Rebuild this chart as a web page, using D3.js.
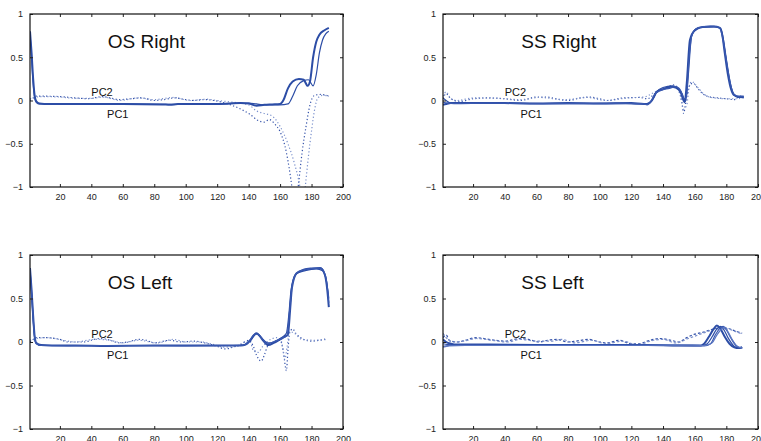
<!DOCTYPE html>
<meta charset="utf-8">
<script src="https://d3js.org/d3.v7.min.js"></script>
<style>
  body { margin: 0; background: #fff; }
  text { font-family: "Liberation Sans", Arial, sans-serif; }
</style>
<svg id="chart" width="761" height="441"></svg>
<script>

// ---- data (x = frame index, y = loading) ----
var xTicks = [20, 40, 60, 80, 100, 120, 140, 160, 180, 200];
var yTicks = [-1, -0.5, 0, 0.5, 1];

// OS Right
var osRightPC1a = [[1,0.8],[2,0.55],[3,0.25],[4,0.05],[5,-0.01],[7,-0.035],[10,-0.04],[30,-0.04],[60,-0.04],[85,-0.045],[90,-0.05],[95,-0.04],[120,-0.04],[135,-0.03],[140,-0.035],[145,-0.06],[150,-0.05],[155,-0.045],[160,-0.04],[162,0.0],[165,0.14],[168,0.22],[172,0.25],[175,0.24],[177.5,0.17],[179,0.22],[181,0.5],[183,0.68],[185,0.76],[188,0.81],[191,0.84]];
var osRightPC1b = [[1,0.78],[2,0.5],[3,0.2],[4,0.03],[5,-0.02],[7,-0.04],[20,-0.04],[60,-0.04],[90,-0.045],[120,-0.04],[140,-0.03],[145,-0.04],[150,-0.05],[160,-0.05],[165,-0.04],[168,0.05],[171,0.17],[175,0.23],[178,0.24],[181,0.17],[183,0.3],[185,0.55],[187,0.7],[189,0.77],[191,0.8]];
var osRightPC2a = [[1,0.0],[3,0.03],[5,0.05],[10,0.05],[20,0.045],[30,0.03],[38,0.02],[47,0.045],[52,0.03],[58,0.01],[65,0.02],[72,0.03],[80,0.0],[86,0.01],[93,0.03],[100,0.01],[105,0.0],[112,0.01],[118,0.0],[125,-0.03],[130,-0.06],[135,-0.1],[140,-0.15],[147,-0.24],[150,-0.25],[153,-0.22],[157,-0.28],[160,-0.36],[164,-0.6],[167.5,-1.0],[169.5,-1.3],[171.5,-1.0],[174,-0.6],[176.5,-0.3],[179,-0.05],[182,0.06],[186,0.07],[191,0.05]];
var osRightPC2b = [[1,0.02],[5,0.04],[10,0.045],[20,0.04],[30,0.025],[40,0.025],[48,0.04],[58,0.0],[70,0.03],[80,0.01],[92,0.035],[103,0.0],[113,0.015],[120,0.0],[130,-0.02],[140,-0.05],[145,-0.12],[150,-0.15],[155,-0.18],[160,-0.3],[165,-0.5],[169,-0.72],[172.6,-1.0],[174.5,-1.25],[176,-1.0],[178,-0.65],[180,-0.35],[182,-0.1],[184,0.03],[187,0.06],[191,0.05]];

// SS Right
var ssRightPC1a = [[1,-0.05],[3,-0.04],[6,-0.03],[20,-0.03],[40,-0.03],[60,-0.035],[80,-0.03],[100,-0.035],[120,-0.03],[128,-0.04],[130,-0.04],[133,0.0],[136,0.1],[140,0.13],[145,0.16],[148,0.15],[151,0.1],[153,0.0],[153.7,-0.02],[155,0.2],[157,0.7],[160,0.81],[165,0.85],[172,0.855],[176,0.84],[177.5,0.75],[179,0.55],[181,0.3],[183,0.13],[185,0.06],[188,0.04],[191,0.04]];
var ssRightPC1b = [[1,0.03],[3,0.0],[6,-0.03],[20,-0.03],[50,-0.035],[80,-0.035],[110,-0.03],[129,-0.04],[131,-0.03],[134,0.03],[136.5,0.11],[140,0.15],[146,0.17],[149,0.15],[152,0.08],[154.2,-0.01],[156,0.3],[158,0.74],[161,0.83],[166,0.85],[173,0.85],[176.5,0.83],[178,0.72],[180,0.48],[182,0.25],[184,0.1],[186,0.05],[191,0.03]];
var ssRightPC1c = [[1,-0.02],[4,-0.03],[8,-0.035],[30,-0.03],[70,-0.035],[110,-0.035],[127,-0.035],[130,-0.05],[132,-0.02],[135,0.08],[139,0.12],[144,0.14],[148,0.16],[151,0.12],[153.5,0.02],[154.8,0.05],[156.5,0.5],[158.5,0.77],[162,0.84],[170,0.86],[175,0.85],[177,0.78],[179,0.58],[181,0.35],[183,0.16],[185,0.07],[188,0.05],[191,0.05]];
var ssRightPC2a = [[1,0.02],[3,0.08],[5,0.04],[8,0.0],[12,-0.01],[20,0.02],[30,0.03],[40,0.02],[50,0.0],[60,0.04],[66,0.04],[75,0.01],[80,0.0],[88,0.03],[93,0.04],[100,0.02],[105,0.0],[115,0.03],[125,0.035],[130,0.02],[135,0.08],[140,0.13],[147,0.18],[150,0.12],[152,-0.03],[153,-0.15],[154.5,0.0],[157,0.18],[159,0.2],[162,0.14],[165,0.08],[170,0.04],[175,0.03],[180,0.02],[185,0.01],[189,0.05],[191,0.04]];
var ssRightPC2b = [[1,0.05],[3,0.1],[6,0.02],[10,0.0],[20,0.03],[35,0.025],[50,0.01],[62,0.035],[78,0.01],[92,0.035],[104,0.0],[118,0.03],[128,0.04],[135,0.1],[142,0.15],[148,0.16],[151,0.05],[153,-0.1],[155,-0.05],[156.5,0.15],[158,0.22],[162,0.15],[166,0.07],[172,0.03],[180,0.02],[187,0.02],[191,0.05]];

// OS Left
var osLeftPC1a = [[1,0.85],[2,0.6],[3,0.3],[4,0.06],[5,-0.01],[8,-0.035],[15,-0.04],[30,-0.04],[50,-0.045],[80,-0.04],[100,-0.04],[120,-0.04],[135,-0.04],[138,-0.03],[141,0.02],[143,0.07],[145,0.1],[147,0.07],[149.5,0.01],[152.5,-0.035],[156,-0.01],[160,0.03],[163,0.06],[165,0.09],[166.5,0.4],[167.5,0.62],[170.5,0.79],[175,0.83],[180,0.845],[185.5,0.85],[188.5,0.77],[190,0.6],[191,0.4]];
var osLeftPC1b = [[1,0.82],[2,0.55],[3,0.25],[4,0.04],[5,-0.02],[8,-0.04],[20,-0.04],[50,-0.04],[90,-0.04],[120,-0.04],[136,-0.04],[138.5,-0.02],[141,0.01],[145,0.095],[148,0.05],[152,-0.01],[156,0.0],[160,0.04],[164,0.1],[165.5,0.3],[167,0.6],[170,0.78],[176,0.82],[183,0.84],[187,0.82],[189.5,0.7],[191,0.5]];
var osLeftPC1c = [[1,0.84],[2,0.58],[3,0.28],[4,0.05],[5,-0.015],[8,-0.04],[25,-0.045],[60,-0.04],[100,-0.045],[130,-0.04],[137,-0.035],[140,0.0],[144,0.09],[146,0.09],[149,0.03],[152,-0.02],[157,0.01],[162,0.05],[164.5,0.07],[166,0.35],[168,0.68],[171,0.8],[178,0.84],[186,0.85],[189,0.75],[191,0.45]];
var osLeftPC2a = [[1,0.0],[3,0.03],[5,0.05],[10,0.05],[20,0.03],[25,0.0],[35,0.0],[45,0.04],[50,0.03],[58,-0.01],[63,0.0],[70,0.03],[75,0.02],[80,-0.01],[90,0.02],[97,0.0],[105,0.01],[112,-0.01],[120,-0.05],[125,-0.08],[130,-0.06],[135,-0.03],[140,0.02],[143,-0.05],[145,-0.15],[148,-0.22],[150,-0.15],[152,-0.05],[156,0.0],[160,0.02],[162,-0.1],[164,-0.33],[165,-0.1],[166,0.1],[168,0.15],[170,0.1],[175,0.03],[180,0.01],[185,0.02],[190,0.04]];
var osLeftPC2b = [[1,0.02],[5,0.04],[12,0.05],[22,0.02],[30,0.0],[42,0.03],[52,0.02],[60,-0.01],[70,0.02],[82,-0.01],[92,0.03],[100,0.0],[110,0.0],[118,-0.03],[124,-0.06],[132,-0.05],[138,0.0],[141,0.0],[143,-0.1],[146,-0.12],[149,-0.05],[153,0.02],[158,0.05],[161,0.0],[163,-0.2],[164.5,-0.05],[166,0.12],[169,0.1],[174,0.03],[182,0.02],[190,0.03]];

// SS Left
var ssLeftPC1a = [[1,0.03],[3,0.0],[6,-0.02],[10,-0.03],[30,-0.03],[60,-0.035],[100,-0.035],[130,-0.035],[150,-0.04],[164,-0.04],[166,-0.02],[169,0.06],[172,0.15],[174,0.19],[176,0.16],[179,0.06],[182,-0.02],[185,-0.06],[188,-0.07],[190,-0.06]];
var ssLeftPC1b = [[1,-0.02],[4,-0.03],[10,-0.035],[40,-0.035],[80,-0.03],[120,-0.035],[165,-0.04],[168,-0.02],[171,0.06],[174,0.15],[176.5,0.18],[178.5,0.14],[181,0.05],[184,-0.03],[187,-0.07],[190,-0.06]];
var ssLeftPC1c = [[1,-0.05],[5,-0.04],[12,-0.035],[50,-0.04],[90,-0.035],[140,-0.04],[166,-0.045],[170,-0.02],[173,0.08],[176,0.16],[178,0.18],[180,0.14],[183,0.04],[186,-0.04],[189,-0.07],[190,-0.065]];
var ssLeftPC1d = [[1,-0.06],[5,-0.045],[15,-0.04],[60,-0.04],[110,-0.04],[150,-0.035],[167,-0.04],[171,-0.01],[174,0.08],[177,0.15],[179,0.17],[181,0.12],[184,0.02],[187,-0.05],[190,-0.07]];
var ssLeftPC2a = [[1,0.05],[3,0.08],[5,0.02],[10,0.0],[15,0.02],[22,0.05],[30,0.03],[40,0.01],[50,0.04],[55,0.03],[62,0.0],[67,0.02],[73,0.03],[80,0.0],[85,0.01],[93,0.03],[100,0.0],[105,-0.01],[112,0.02],[120,-0.02],[125,-0.02],[130,0.01],[138,0.04],[145,0.02],[150,0.0],[155,0.05],[160,0.09],[165,0.11],[170,0.14],[175,0.16],[180,0.16],[185,0.13],[190,0.1]];
var ssLeftPC2b = [[1,0.1],[3,0.05],[7,0.0],[14,0.01],[22,0.04],[32,0.02],[42,0.0],[50,0.03],[60,0.01],[70,0.01],[76,0.03],[84,-0.01],[95,0.02],[104,-0.02],[114,0.01],[124,-0.03],[134,0.02],[140,0.03],[148,-0.01],[156,0.04],[162,0.08],[168,0.12],[174,0.15],[180,0.15],[186,0.12],[190,0.09]];

var titles = ["OS Right", "SS Right", "OS Left", "SS Left"];

var panelSeries = [
  { pc1: [osRightPC1a, osRightPC1b], pc2: [osRightPC2a, osRightPC2b] },
  { pc1: [ssRightPC1a, ssRightPC1b, ssRightPC1c], pc2: [ssRightPC2a, ssRightPC2b] },
  { pc1: [osLeftPC1a, osLeftPC1b, osLeftPC1c], pc2: [osLeftPC2a, osLeftPC2b] },
  { pc1: [ssLeftPC1a, ssLeftPC1b, ssLeftPC1c, ssLeftPC1d], pc2: [ssLeftPC2a, ssLeftPC2b] }
];

// ---- layout ----
var frames = [
  { left: 30,  top: 14,  w: 313, h: 173 },
  { left: 443, top: 14,  w: 315, h: 173 },
  { left: 30,  top: 255, w: 313, h: 174 },
  { left: 443, top: 255, w: 315, h: 174 }
];

var svg = d3.select("#chart");
var blue = "#2c4da6", lightBlue = "#5b77c2";
var pc1Width = [2.0, 1.2, 1.2, 1.2];
var pc1Color = [blue, blue, "#3a59b0", lightBlue];
var pc2Color = ["#3553aa", "#7a90cc"];

frames.forEach(function(f, i) {
  var x = d3.scaleLinear().domain([1, 200]).range([0, f.w]);
  var y = d3.scaleLinear().domain([-1, 1]).range([f.h, 0]);
  var g = svg.append("g").attr("transform", "translate(" + f.left + "," + f.top + ")");

  g.append("clipPath").attr("id", "clip" + i)
    .append("rect").attr("width", f.w).attr("height", f.h);

  var line = d3.line()
    .x(function(d) { return x(d[0]); })
    .y(function(d) { return y(d[1]); })
    .curve(d3.curveMonotoneX);

  var plot = g.append("g").attr("clip-path", "url(#clip" + i + ")");

  // PC2 dotted
  plot.selectAll(".pc2")
    .data(panelSeries[i].pc2)
    .enter().append("path")
      .attr("class", "pc2")
      .attr("d", line)
      .attr("fill", "none")
      .attr("stroke", function(d, k) { return pc2Color[k]; })
      .attr("stroke-width", 1.2)
      .attr("stroke-dasharray", i === 3 ? "2.5,2" : "1.2,2.3");

  // PC1 solid
  plot.selectAll(".pc1")
    .data(panelSeries[i].pc1)
    .enter().append("path")
      .attr("class", "pc1")
      .attr("d", line)
      .attr("fill", "none")
      .attr("stroke", function(d, k) { return pc1Color[k]; })
      .attr("stroke-width", function(d, k) { return pc1Width[k]; });

  // axes, ticks pointing inward
  var fmt = d3.format("");
  g.append("g").attr("transform", "translate(0," + f.h + ")")
    .call(d3.axisBottom(x).tickValues(xTicks).tickSize(-3).tickPadding(7));
  g.append("g")
    .call(d3.axisTop(x).tickValues(xTicks).tickSize(-3).tickFormat(""));
  g.append("g")
    .call(d3.axisLeft(y).tickValues(yTicks).tickSize(-3).tickPadding(7).tickFormat(fmt));
  g.append("g").attr("transform", "translate(" + f.w + ",0)")
    .call(d3.axisRight(y).tickValues(yTicks).tickSize(-3).tickFormat(""));

  g.selectAll(".domain").remove();
  g.selectAll(".tick line").attr("stroke", "#222");
  g.selectAll(".tick text").attr("fill", "#222").style("font-size", "9px");

  g.append("rect")
    .attr("width", f.w).attr("height", f.h)
    .attr("fill", "none").attr("stroke", "#111").attr("stroke-width", 1.2);

  // labels
  g.append("text")
    .attr("x", x(50.5)).attr("y", y(0.61))
    .style("font-size", "19px").attr("fill", "#111")
    .text(titles[i]);
  g.append("text")
    .attr("x", x(40)).attr("y", y(0.05))
    .style("font-size", "11px").attr("fill", "#111")
    .text("PC2");
  g.append("text")
    .attr("x", x(50)).attr("y", y(-0.2))
    .style("font-size", "11px").attr("fill", "#111")
    .text("PC1");
});

</script>
